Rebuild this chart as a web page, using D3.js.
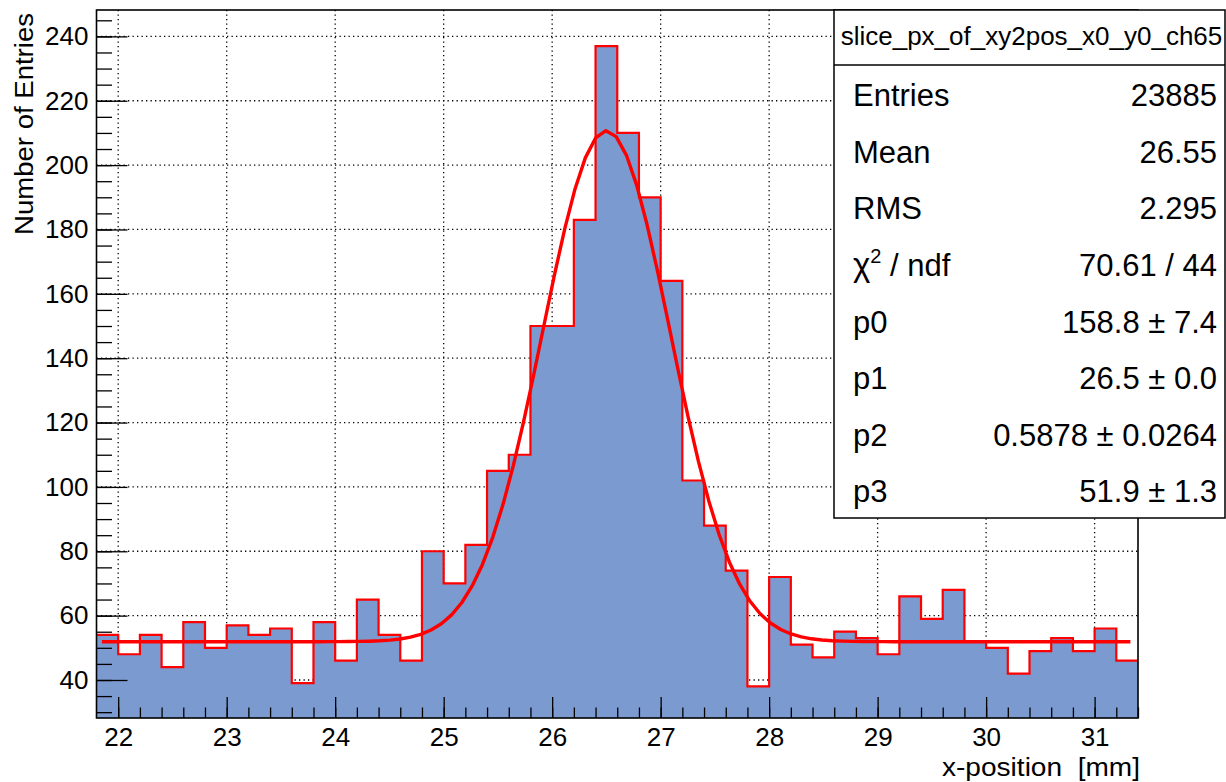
<!DOCTYPE html>
<html>
<head>
<meta charset="utf-8">
<script src="https://cdn.jsdelivr.net/npm/d3@7"></script>
<style>
  body { margin: 0; background: #fff; }
  svg { display: block; font-family: "Liberation Sans", Arial, Helvetica, sans-serif; }
</style>
</head>
<body>
<div id="chart"></div>
<script>
// histogram: 48 bins of 0.2 mm from 21.8 to 31.4
const xRange = [21.8, 31.4];
const binWidth = 0.2;
const counts = [54, 48, 54, 44, 58, 50, 57, 54, 56, 39, 58, 46, 65, 54, 46, 80,
  70, 82, 105, 110, 150, 150, 183, 237, 210, 190, 164, 102, 88, 74, 38, 72,
  51, 47, 55, 53, 48, 66, 59, 68, 52, 50, 42, 49, 53, 49, 56, 46];

// gaus + constant fit, parameters as printed in the stats box
const fitParams = [158.8, 26.5, 0.5878, 51.9];
const fitRange = [21.85, 31.33];

const xTicks = [22, 23, 24, 25, 26, 27, 28, 29, 30, 31];
const yTicks = [40, 60, 80, 100, 120, 140, 160, 180, 200, 220, 240];

const statsTitle = "slice_px_of_xy2pos_x0_y0_ch65";
const statsLabels = ["Entries", "Mean", "RMS", "chi2", "p0", "p1", "p2", "p3"];
const statsValues = ["23885", "26.55", "2.295", "70.61 / 44", "158.8 \u00b1 7.4",
  "26.5 \u00b1 0.0", "0.5878 \u00b1 0.0264", "51.9 \u00b1 1.3"];

const width = 1226;
const height = 782;
const frame = { left: 96.5, right: 1138, top: 10, bottom: 718 };

const svg = d3.select("#chart")
  .append("svg")
  .attr("width", width)
  .attr("height", height);

const x = d3.scaleLinear()
  .domain(xRange)
  .range([frame.left, frame.right]);

const y = d3.scaleLinear()
  .domain([28.19, 248.2])
  .range([frame.bottom, frame.top]);

svg.append("defs").append("clipPath").attr("id", "clip")
  .append("rect")
  .attr("x", frame.left).attr("y", frame.top)
  .attr("width", frame.right - frame.left)
  .attr("height", frame.bottom - frame.top);

// grid
const grid = svg.append("g")
  .attr("stroke", "#000")
  .attr("stroke-width", 1.3)
  .attr("stroke-dasharray", "1.3,3.2");
grid.selectAll(".gx").data(xTicks).join("line")
  .attr("x1", d => x(d)).attr("x2", d => x(d))
  .attr("y1", frame.top).attr("y2", frame.bottom);
grid.selectAll(".gy").data(yTicks).join("line")
  .attr("x1", frame.left).attr("x2", frame.right)
  .attr("y1", d => y(d)).attr("y2", d => y(d));

// histogram
const bins = counts.map((c, i) => ({ x0: xRange[0] + i * binWidth, c }));
bins.push({ x0: xRange[1], c: counts[counts.length - 1] });

const plot = svg.append("g").attr("clip-path", "url(#clip)");

plot.append("path")
  .datum(bins)
  .attr("fill", "#7b9ad0")
  .attr("d", d3.area()
    .curve(d3.curveStepAfter)
    .x(d => x(d.x0))
    .y0(frame.bottom)
    .y1(d => y(d.c)));

plot.append("path")
  .datum(bins)
  .attr("fill", "none")
  .attr("stroke", "#ff0000")
  .attr("stroke-width", 2.2)
  .attr("d", d3.line()
    .curve(d3.curveStepAfter)
    .x(d => x(d.x0))
    .y(d => y(d.c)));

// fit curve
const [p0, p1, p2, p3] = fitParams;
const fitPts = d3.range(0, 101).map(i => {
  const xv = fitRange[0] + (fitRange[1] - fitRange[0]) * i / 100;
  return [xv, p0 * Math.exp(-0.5 * ((xv - p1) / p2) ** 2) + p3];
});
plot.append("path")
  .datum(fitPts)
  .attr("fill", "none")
  .attr("stroke", "#ff0000")
  .attr("stroke-width", 3.4)
  .attr("stroke-linejoin", "round")
  .attr("d", d3.line().x(d => x(d[0])).y(d => y(d[1])));

// axes
const xMinor = d3.range(22, 31.41, 0.2).map(v => +v.toFixed(1));
const yMinor = d3.range(30, 248, 5);

svg.append("g")
  .attr("transform", `translate(0,${frame.bottom})`)
  .call(d3.axisBottom(x).tickValues(xMinor).tickSize(-10.5).tickFormat(""))
  .call(g => g.select(".domain").remove());

svg.append("g")
  .attr("transform", `translate(0,${frame.bottom})`)
  .call(d3.axisBottom(x).tickValues(xTicks).tickSize(-21).tickPadding(10).tickFormat(d3.format("d")))
  .call(g => g.select(".domain").remove())
  .call(g => g.selectAll("text").attr("font-size", 26).attr("fill", "#000")
    .style("font-family", "'Liberation Sans', Arial, sans-serif"));

svg.append("g")
  .attr("transform", `translate(${frame.left},0)`)
  .call(d3.axisLeft(y).tickValues(yMinor).tickSize(-15.5).tickFormat(""))
  .call(g => g.select(".domain").remove());

svg.append("g")
  .attr("transform", `translate(${frame.left},0)`)
  .call(d3.axisLeft(y).tickValues(yTicks).tickSize(-31).tickPadding(8).tickFormat(d3.format("d")))
  .call(g => g.select(".domain").remove())
  .call(g => g.selectAll("text").attr("font-size", 26).attr("fill", "#000")
    .style("font-family", "'Liberation Sans', Arial, sans-serif"));

svg.selectAll(".tick line").attr("stroke", "#000").attr("stroke-width", 1.3);

// frame
svg.append("rect")
  .attr("x", frame.left).attr("y", frame.top)
  .attr("width", frame.right - frame.left)
  .attr("height", frame.bottom - frame.top)
  .attr("fill", "none")
  .attr("stroke", "#000")
  .attr("stroke-width", 1.6);

// axis titles
svg.append("text")
  .attr("x", frame.right + 2)
  .attr("y", 776)
  .attr("text-anchor", "end")
  .attr("font-size", 25)
  .attr("textLength", 198)
  .attr("lengthAdjust", "spacingAndGlyphs")
  .text("x-position  [mm]")
  .style("white-space", "pre");

svg.append("text")
  .attr("transform", "translate(33,13) rotate(-90)")
  .attr("text-anchor", "end")
  .attr("font-size", 25)
  .attr("textLength", 222)
  .attr("lengthAdjust", "spacingAndGlyphs")
  .text("Number of Entries");

// stats box
const box = { x: 834, y: 10, w: 391, h: 508, head: 55 };
const stats = svg.append("g");
stats.append("rect")
  .attr("x", box.x).attr("y", box.y)
  .attr("width", box.w).attr("height", box.h)
  .attr("fill", "#fff")
  .attr("stroke", "#000")
  .attr("stroke-width", 1.5);
stats.append("line")
  .attr("x1", box.x).attr("x2", box.x + box.w)
  .attr("y1", box.y + box.head).attr("y2", box.y + box.head)
  .attr("stroke", "#000")
  .attr("stroke-width", 1.5);
stats.append("text")
  .attr("x", box.x + box.w / 2 + 2)
  .attr("y", 45)
  .attr("text-anchor", "middle")
  .attr("font-size", 26)
  .text(statsTitle);

const rowH = (box.h - box.head) / statsLabels.length;
statsLabels.forEach((lab, i) => {
  const by = box.y + box.head + rowH * i + 41;
  const t = stats.append("text")
    .attr("x", 853)
    .attr("y", by)
    .attr("font-size", 31);
  if (lab === "chi2") {
    t.append("tspan").attr("font-size", 33).text("\u03c7");
    t.append("tspan").attr("font-size", 20).attr("dy", -13).text("2");
    t.append("tspan").attr("dy", 13).text(" / ndf");
  } else {
    t.text(lab);
  }
  stats.append("text")
    .attr("x", 1217)
    .attr("y", by)
    .attr("text-anchor", "end")
    .attr("font-size", 31)
    .text(statsValues[i]);
});
</script>
</body>
</html>
